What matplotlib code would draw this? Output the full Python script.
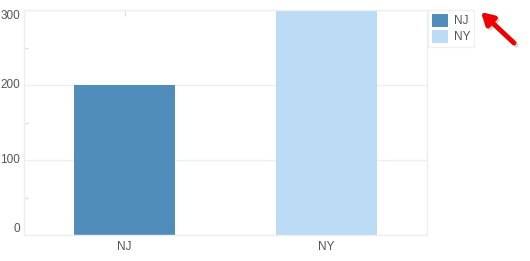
import matplotlib.pyplot as plt
import matplotlib.transforms as mtransforms
from matplotlib.ticker import MultipleLocator

# data
states = ["NJ", "NY"]
values = [200, 300]
colors = ["#508dba", "#bbdcf4"]
yticks = [0, 100, 200, 300]

plt.rcParams["font.family"] = ["Liberation Sans", "DejaVu Sans"]
txt = "#555555"
grid = "#eeeeee"

fig = plt.figure(figsize=(5.3, 2.61), dpi=100)
ax = fig.add_axes([24 / 530, 1 - 235 / 261, 403 / 530, 225 / 261])

bars = ax.bar(range(len(states)), values, width=0.5, color=colors,
              label=states, zorder=2)

ax.set_xlim(-0.5, 1.5)
ax.set_ylim(0, 300)
ax.set_xticks(range(len(states)))
ax.set_xticklabels(states)
ax.set_yticks(yticks)
ax.set_yticklabels([])
ax.yaxis.set_minor_locator(MultipleLocator(50))
ax.grid(axis="y", which="major", color=grid, lw=1, zorder=0)

for s in ax.spines.values():
    s.set_color(grid)
    s.set_linewidth(1)

ax.tick_params(axis="y", which="major", length=0)
ax.tick_params(axis="y", which="minor", direction="in", length=3,
               color="#dddddd", width=1)
ax.tick_params(axis="x", direction="in", length=4, color="#dddddd",
               labelsize=8.5, labelcolor=txt, top=True, pad=4)

# y labels, the end ones kept inside the axis box
trans = ax.get_yaxis_transform() + mtransforms.ScaledTranslation(
    -3 / 72, 0, fig.dpi_scale_trans)
for i, v in enumerate(yticks):
    va = "center"
    if i == 0:
        va = "bottom"
    elif i == len(yticks) - 1:
        va = "top"
    ax.text(0, v, str(v), transform=trans, ha="right", va=va,
            fontsize=8.5, color=txt)

leg = fig.legend(handles=list(bars), labels=states,
                 loc="upper left", bbox_to_anchor=(428 / 530, 1 - 10 / 261),
                 fontsize=8.5, frameon=True, fancybox=False,
                 handlelength=1.4, handleheight=1.4, handletextpad=0.5,
                 borderpad=0.3, labelspacing=0.2, borderaxespad=0)
leg.get_frame().set_edgecolor(grid)
for t in leg.get_texts():
    t.set_color(txt)

# red arrow pointing at the legend (with a soft shadow)
head = (481 / 530, 1 - 12 / 261)
tail = (514 / 530, 1 - 43 / 261)
shadow = (head[0] + 2 / 530, head[1] - 2 / 261)
shadow_tail = (tail[0] + 2 / 530, tail[1] - 2 / 261)
style = "-|>,head_length=0.7,head_width=0.4"
ax.annotate("", xy=shadow, xycoords="figure fraction",
            xytext=shadow_tail, textcoords="figure fraction",
            arrowprops=dict(arrowstyle=style, color="#bbbbbb", lw=3.5,
                            alpha=0.6, shrinkA=0, shrinkB=0),
            annotation_clip=False)
ax.annotate("", xy=head, xycoords="figure fraction",
            xytext=tail, textcoords="figure fraction",
            arrowprops=dict(arrowstyle=style, color="#ee0000", lw=3.5,
                            shrinkA=0, shrinkB=0),
            annotation_clip=False)

fig.savefig("out.png", dpi=100)
